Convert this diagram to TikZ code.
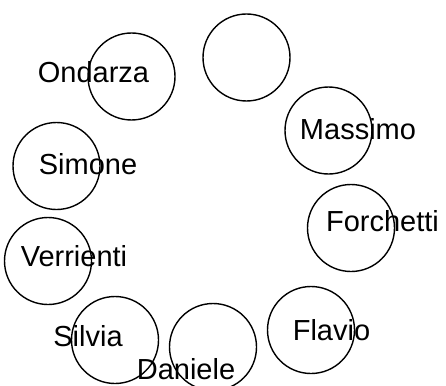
\documentclass[tikz,border=0pt]{standalone}
\usepackage{fontspec}
\setmainfont{Liberation Sans}
\usetikzlibrary{positioning}
\tikzset{
  seat/.style={draw, circle, minimum size=87pt, inner sep=0pt, line width=1.4pt},
  guest/.style={inner sep=0pt, font=\fontsize{29}{34}\selectfont}
}

\begin{document}
\begin{tikzpicture}[x=1pt, y=-1pt]
\useasboundingbox (0,0) rectangle (446,385);

% seats round the table
\node[seat] (top)       at (246.5,57.5) {};
\node[seat] (ondarza)   at (131.5,76.5) {};
\node[seat] (massimo)   at (328.5,130.5) {};
\node[seat] (simone)    at (56.5,166) {};
\node[seat] (forchetti) at (351,228) {};
\node[seat] (verrienti) at (48,261) {};
\node[seat] (silvia)    at (115,340) {};
\node[seat] (daniele)   at (213,347) {};
\node[seat] (flavio)    at (311,330) {};

% names, set off the seat centres
\node[guest] (ondarza-name)   at (93.5,72.5) {Ondarza};
\node[guest] (massimo-name)   at (358,129) {Massimo};
\node[guest] (simone-name)    at (88,164) {Simone};
\node[guest] (forchetti-name) at (382.5,221) {Forchetti};
\node[guest] (verrienti-name) at (74,256) {Verrienti};
\node[guest] (silvia-name)    at (88,336) {Silvia};
\node[guest] (daniele-name)   at (186,369) {Daniele};
\node[guest] (flavio-name)    at (331.5,330) {Flavio};

\end{tikzpicture}
\end{document}
